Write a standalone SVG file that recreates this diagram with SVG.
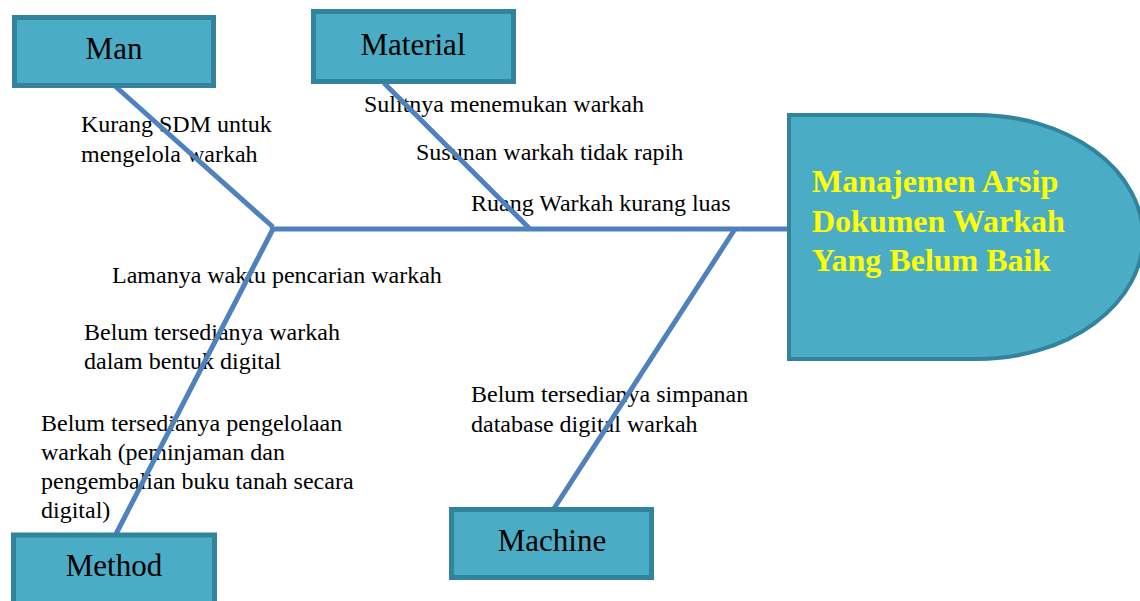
<svg xmlns="http://www.w3.org/2000/svg" width="1140" height="601" viewBox="0 0 1140 601">
<style>
.box{fill:#4bacc6;stroke:#31849b;stroke-width:5}
.lbl{font-family:"Liberation Serif","Times New Roman",serif;font-size:31px;fill:#000;text-anchor:middle}
.t{font-family:"Liberation Serif","Times New Roman",serif;font-size:24px;fill:#000}
.head{font-family:"Liberation Serif","Times New Roman",serif;font-size:32px;font-weight:bold;fill:#ffff00}
.bone{stroke:#4f81bd;stroke-width:5;fill:none;stroke-linecap:butt}
</style>
<rect width="1140" height="601" fill="#fff"/>
<g id="texts">
<text class="t" x="81" y="132">Kurang SDM untuk</text>
<text class="t" x="81" y="162">mengelola warkah</text>
<text class="t" x="364" y="112">Sulitnya menemukan warkah</text>
<text class="t" x="416" y="160">Susunan warkah tidak rapih</text>
<text class="t" x="471" y="211">Ruang Warkah kurang luas</text>
<text class="t" x="112" y="283">Lamanya waktu pencarian warkah</text>
<text class="t" x="84" y="340">Belum tersedianya warkah</text>
<text class="t" x="84" y="369">dalam bentuk digital</text>
<text class="t" x="41" y="431">Belum tersedianya pengelolaan</text>
<text class="t" x="41" y="460">warkah (peminjaman dan</text>
<text class="t" x="41" y="489">pengembalian buku tanah secara</text>
<text class="t" x="41" y="518">digital)</text>
<text class="t" x="471" y="402">Belum tersedianya simpanan</text>
<text class="t" x="471" y="432">database digital warkah</text>
</g>
<g id="connectors">
<line class="bone" x1="270" y1="229" x2="790" y2="229"/>
<line class="bone" x1="115" y1="86" x2="273" y2="227"/>
<line class="bone" x1="384" y1="83" x2="529" y2="228"/>
<line class="bone" x1="273" y1="229" x2="116" y2="534"/>
<line class="bone" x1="735" y1="229" x2="553" y2="510"/>
</g>
<g id="man">
<rect class="box" x="14.5" y="17.5" width="199" height="68"/>
<text class="lbl" x="114" y="59">Man</text>
</g>
<g id="material">
<rect class="box" x="313.5" y="11.5" width="200" height="70"/>
<text class="lbl" x="413" y="55">Material</text>
</g>
<g id="method">
<rect class="box" x="13.5" y="535" width="201" height="80"/>
<text class="lbl" x="114" y="576">Method</text>
</g>
<g id="machine">
<rect class="box" x="451.5" y="509.5" width="200" height="68"/>
<text class="lbl" x="552" y="551">Machine</text>
</g>
<g id="effect">
<path d="M789,115 H977 A166,122 0 0 1 977,359 H789 Z" fill="#4bacc6" stroke="#31849b" stroke-width="4"/>
<text class="head" x="812" y="192">Manajemen Arsip</text>
<text class="head" x="812" y="232">Dokumen Warkah</text>
<text class="head" x="812" y="271">Yang Belum Baik</text>
</g>
</svg>
